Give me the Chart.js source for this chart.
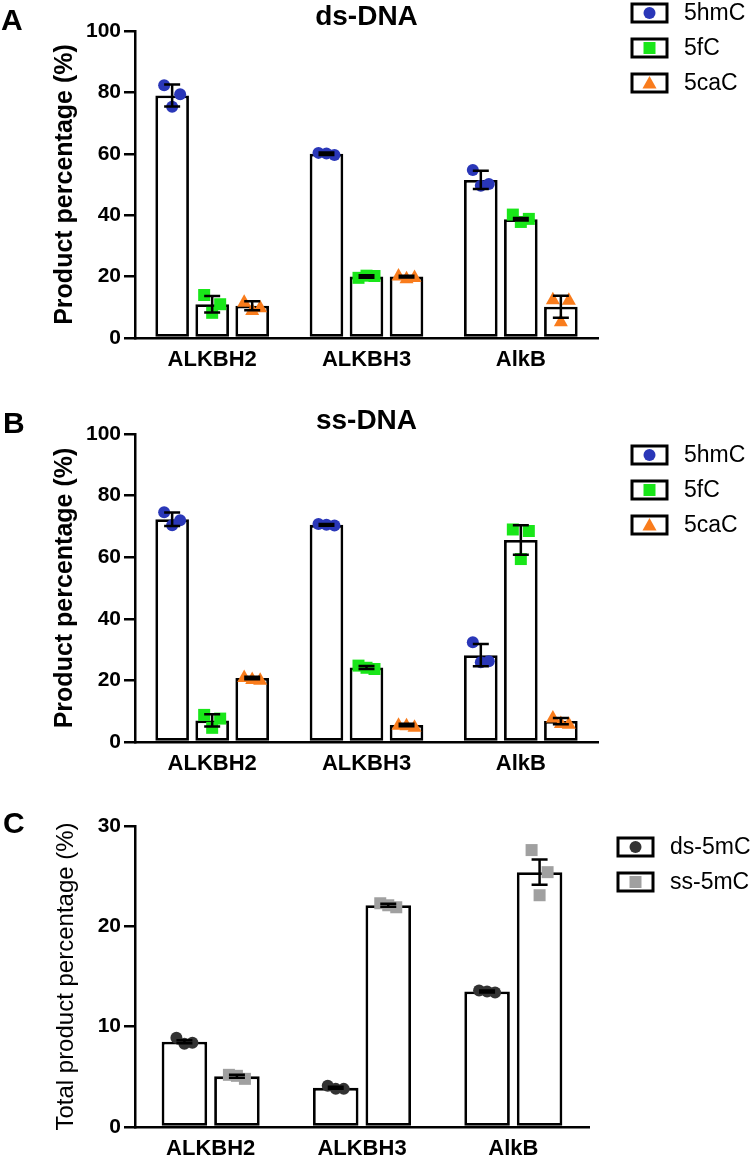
<!DOCTYPE html>
<html>
<head>
<meta charset="utf-8">
<script src="https://cdn.jsdelivr.net/npm/chart.js@4.4.1/dist/chart.umd.min.js"></script>
<style>
  body { margin: 0; background: #fff; width: 756px; height: 1159px; position: relative; overflow: hidden; }
  canvas { position: absolute; left: 0; }
</style>
</head>
<body>
<canvas id="chartA" width="756" height="390" style="top:0"></canvas>
<canvas id="chartB" width="756" height="390" style="top:390px"></canvas>
<canvas id="chartC" width="756" height="379" style="top:780px"></canvas>
<script>
// enzymes on the x axis
var categories = ['ALKBH2', 'ALKBH3', 'AlkB'];

// A: ds-DNA, product percentage (mean, SD, replicates)
var dsNames = ['5hmC', '5fC', '5caC'];
var ds5hmC = [79, 60, 51.5];
var ds5hmCErr = [3.6, 0.4, 3.0];
var ds5hmCPts = [[82.3, 79.4, 75.3], [60.3, 59.6, 60.1], [54.7, 50.2, 49.6]];
var ds5fC = [11, 20, 38.7];
var ds5fCErr = [2.7, 0.4, 0.4];
var ds5fCPts = [[14, 11, 8.2], [19.6, 20.2, 20.3], [40.2, 38.8, 37.8]];
var ds5caC = [10.5, 20, 10.2];
var ds5caCErr = [1.5, 0.3, 3.6];
var ds5caCPts = [[12, 10.2, 9.3], [20.5, 20, 19.6], [12.8, 12.6, 5.6]];

// B: ss-DNA
var ss5hmC = [72.3, 70.5, 28.2];
var ss5hmCErr = [2.2, 0.3, 3.6];
var ss5hmCPts = [[74.6, 72.0, 70.4], [70.8, 70.3, 70.5], [32.4, 26.2, 25.9]];
var ss5fC = [7.0, 24.2, 65.6];
var ss5fCErr = [2.0, 0.5, 4.8];
var ss5fCPts = [[8.8, 7.6, 4.6], [24.8, 23.7, 24.1], [69.0, 68.5, 59.4]];
var ss5caC = [20.8, 5.5, 6.8];
var ss5caCErr = [0.4, 0.4, 1.0];
var ss5caCPts = [[21.3, 20.4, 20.6], [5.8, 5.1, 5.6], [8.1, 6.1, 6.3]];

// C: total product percentage (mean, SEM, replicates)
var totNames = ['ds-5mC', 'ss-5mC'];
var totDs = [8.5, 3.9, 13.5];
var totDsErr = [0.15, 0.1, 0.1];
var totDsPts = [[8.9, 8.4, 8.3], [4.1, 3.8, 3.8], [13.6, 13.4, 13.5]];
var totSs = [5.05, 22.1, 25.4];
var totSsErr = [0.15, 0.15, 1.25];
var totSsPts = [[5.2, 4.8, 5.1], [22.3, 21.9, 22.1], [27.6, 25.4, 23.1]];

var yMaxAB = 100, yStepAB = 20;
var yMaxC = 30, yStepC = 10;

var FONT = '"Liberation Sans", Arial, Helvetica, sans-serif';
var BLUE = '#2a37b8', GREEN = '#19e619', ORANGE = '#f97c1c', DARK = '#333333', GREY = '#a0a0a0';
var JITTER = [-8, 8, 0];

Chart.defaults.font.family = FONT;
Chart.defaults.color = '#000';

function drawMarker(ctx, shape, color, x, y) {
  ctx.save();
  ctx.fillStyle = color;
  ctx.beginPath();
  if (shape === 'circle') {
    ctx.arc(x, y, 6, 0, Math.PI * 2);
  } else if (shape === 'square') {
    ctx.rect(x - 6, y - 6, 12, 12);
  } else {
    ctx.moveTo(x, y - 7);
    ctx.lineTo(x + 7, y + 5.5);
    ctx.lineTo(x - 7, y + 5.5);
    ctx.closePath();
  }
  ctx.fill();
  ctx.restore();
}

var replicatePlugin = {
  id: 'replicates',
  afterDatasetsDraw: function(chart) {
    var ctx = chart.ctx, y = chart.scales.y;
    chart.data.datasets.forEach(function(ds, i) {
      var meta = chart.getDatasetMeta(i);
      meta.data.forEach(function(bar, j) {
        ds.points[j].forEach(function(v, k) {
          drawMarker(ctx, ds.marker, ds.markerColor, bar.x + JITTER[k], y.getPixelForValue(v));
        });
        var top = y.getPixelForValue(ds.data[j] + ds.errors[j]);
        var bot = y.getPixelForValue(ds.data[j] - ds.errors[j]);
        ctx.save();
        ctx.strokeStyle = '#000';
        ctx.lineWidth = 2.5;
        ctx.beginPath();
        ctx.moveTo(bar.x, top); ctx.lineTo(bar.x, bot);
        ctx.moveTo(bar.x - 8, top); ctx.lineTo(bar.x + 8, top);
        ctx.moveTo(bar.x - 8, bot); ctx.lineTo(bar.x + 8, bot);
        ctx.stroke();
        ctx.restore();
      });
    });
  },
  afterDraw: function(chart, args, opts) {
    var ctx = chart.ctx;
    ctx.save();
    // panel letter
    ctx.fillStyle = '#000';
    ctx.textAlign = 'left';
    ctx.textBaseline = 'alphabetic';
    ctx.font = 'bold 30px ' + FONT;
    ctx.fillText(opts.letter, opts.letterX, opts.letterY);
    // panel title
    if (opts.title) {
      ctx.font = 'bold 28px ' + FONT;
      ctx.textAlign = 'center';
      ctx.fillText(opts.title, (chart.chartArea.left + chart.chartArea.right) / 2, opts.titleY);
    }
    // legend
    ctx.textAlign = 'left';
    ctx.textBaseline = 'middle';
    ctx.font = '23px ' + FONT;
    chart.data.datasets.forEach(function(ds, i) {
      var cy = opts.legendY + i * 35;
      ctx.strokeStyle = '#000';
      ctx.lineWidth = 3;
      ctx.strokeRect(opts.legendX, cy - 9, 35, 18);
      drawMarker(ctx, ds.marker, ds.markerColor, opts.legendX + 17.5, cy);
      ctx.fillStyle = '#000';
      ctx.fillText(ds.label, opts.legendX + 52, cy + 1);
    });
    ctx.restore();
  }
};

function barSet(label, data, errors, points, marker, color, barPct, catPct) {
  return {
    label: label,
    data: data,
    errors: errors,
    points: points,
    marker: marker,
    markerColor: color,
    backgroundColor: '#fff',
    borderColor: '#000',
    borderWidth: 2.8,
    borderSkipped: false,
    barPercentage: barPct,
    categoryPercentage: catPct
  };
}

function makeChart(id, datasets, cfg) {
  var canvas = document.getElementById(id);
  var H = canvas.height;
  return new Chart(canvas, {
    type: 'bar',
    data: { labels: categories, datasets: datasets },
    plugins: [replicatePlugin],
    options: {
      responsive: false,
      animation: false,
      layout: { padding: { top: cfg.top, right: cfg.right, left: 0, bottom: 0 } },
      plugins: {
        legend: { display: false },
        tooltip: { enabled: false },
        replicates: cfg.deco
      },
      scales: {
        x: {
          grid: { display: false, drawTicks: false },
          border: { display: true, color: '#000', width: 2.5 },
          ticks: { font: { size: 22, weight: 'bold' }, color: '#000', padding: 9 },
          afterFit: function(s) { s.height = H - cfg.bottom; }
        },
        y: {
          min: 0,
          max: cfg.yMax,
          ticks: { stepSize: cfg.yStep, font: { size: 21, weight: 'bold' }, color: '#000', padding: 3 },
          grid: { drawOnChartArea: false, drawTicks: true, tickLength: 11, color: '#000', lineWidth: 2.5 },
          border: { color: '#000', width: 2.5 },
          title: {
            display: true,
            text: cfg.yTitle,
            font: { size: cfg.yTitleSize, weight: cfg.yTitleWeight },
            color: '#000',
            padding: { top: cfg.yTitlePad, bottom: 0 }
          },
          afterFit: function(s) { s.width = 135; }
        }
      }
    }
  });
}

var bpAB = 0.84, cpAB = 0.778;
makeChart('chartA', [
  barSet(dsNames[0], ds5hmC, ds5hmCErr, ds5hmCPts, 'circle', BLUE, bpAB, cpAB),
  barSet(dsNames[1], ds5fC, ds5fCErr, ds5fCPts, 'square', GREEN, bpAB, cpAB),
  barSet(dsNames[2], ds5caC, ds5caCErr, ds5caCPts, 'triangle', ORANGE, bpAB, cpAB)
], {
  top: 31, bottom: 338, right: 158, yMax: yMaxAB, yStep: yStepAB,
  yTitle: 'Product percentage (%)', yTitleSize: 25, yTitleWeight: 'bold', yTitlePad: 50,
  deco: { letter: 'A', letterX: 1, letterY: 30, title: 'ds-DNA', titleY: 25, legendX: 632, legendY: 13 }
});

makeChart('chartB', [
  barSet(dsNames[0], ss5hmC, ss5hmCErr, ss5hmCPts, 'circle', BLUE, bpAB, cpAB),
  barSet(dsNames[1], ss5fC, ss5fCErr, ss5fCPts, 'square', GREEN, bpAB, cpAB),
  barSet(dsNames[2], ss5caC, ss5caCErr, ss5caCPts, 'triangle', ORANGE, bpAB, cpAB)
], {
  top: 44, bottom: 352, right: 158, yMax: yMaxAB, yStep: yStepAB,
  yTitle: 'Product percentage (%)', yTitleSize: 25, yTitleWeight: 'bold', yTitlePad: 50,
  deco: { letter: 'B', letterX: 3, letterY: 43, title: 'ss-DNA', titleY: 39, legendX: 632, legendY: 65 }
});

makeChart('chartC', [
  barSet(totNames[0], totDs, totDsErr, totDsPts, 'circle', DARK, 0.867, 0.694),
  barSet(totNames[1], totSs, totSsErr, totSsPts, 'square', GREY, 0.867, 0.694)
], {
  top: 46, bottom: 347, right: 167, yMax: yMaxC, yStep: yStepC,
  yTitle: 'Total product percentage (%)', yTitleSize: 24, yTitleWeight: 'normal', yTitlePad: 52,
  deco: { letter: 'C', letterX: 3, letterY: 53, title: '', titleY: 0, legendX: 618, legendY: 67 }
});
</script>
</body>
</html>
